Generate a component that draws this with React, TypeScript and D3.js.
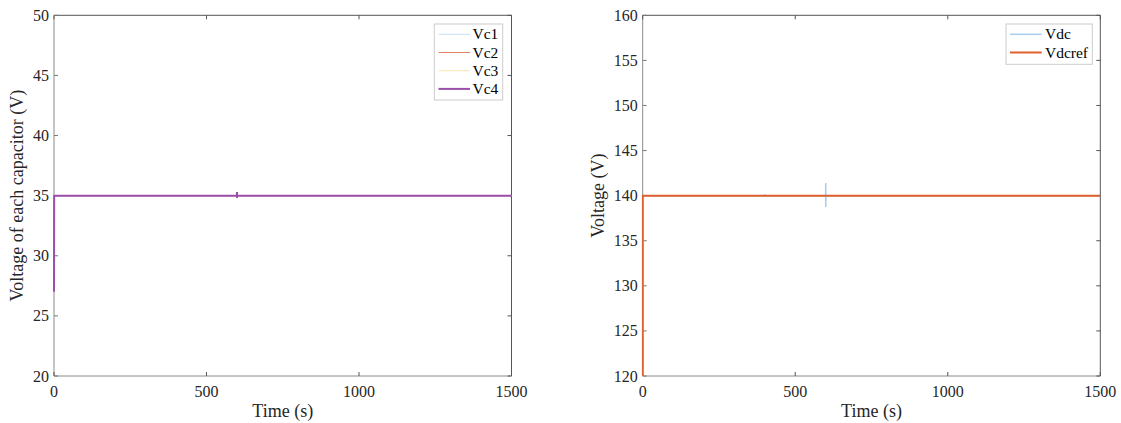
import React from "react";
import * as d3 from "d3";

// ---- data ----
const xTicks = [0, 500, 1000, 1500];
const leftYTicks = [20, 25, 30, 35, 40, 45, 50];
const rightYTicks = [120, 125, 130, 135, 140, 145, 150, 155, 160];

const vcTime = [0, 0.5, 599.5, 600, 600, 600.5, 1500];
const vc1 = [27, 35, 35, 35.2, 34.85, 35, 35];
const vc2 = [27, 35, 35, 35.2, 34.85, 35, 35];
const vc3 = [27, 35, 35, 35.2, 34.85, 35, 35];
const vc4 = [27, 35, 35, 35.3, 34.8, 35, 35];

const vdcTime = [0, 0.5, 399.5, 400, 400.5, 599.5, 600, 600, 600.5, 1500];
const vdc = [120, 140, 140, 140.15, 140, 140, 141.4, 138.75, 140, 140];
const vdcrefTime = [0, 0, 1500];
const vdcref = [120, 140, 140];

const leftSeries = [
  { name: "Vc1", t: vcTime, v: vc1, color: "#c9dff2", width: 1 },
  { name: "Vc2", t: vcTime, v: vc2, color: "#e0825f", width: 1 },
  { name: "Vc3", t: vcTime, v: vc3, color: "#fbe6b3", width: 1 },
  { name: "Vc4", t: vcTime, v: vc4, color: "#9a4fab", width: 2 },
];
const rightSeries = [
  { name: "Vdc", t: vdcTime, v: vdc, color: "#a8cdec", width: 1.5 },
  { name: "Vdcref", t: vdcrefTime, v: vdcref, color: "#e0602d", width: 2 },
];

const FONT = "'Liberation Serif', 'Times New Roman', serif";

type Series = { name: string; t: number[]; v: number[]; color: string; width: number };

function Panel(props: {
  x0: number; x1: number; y0: number; y1: number;
  yDomain: [number, number]; yTicks: number[]; yLabel: string; yLabelX: number;
  series: Series[];
  legend: { x: number; y: number; w: number; h: number; lineX0: number; lineX1: number; textX: number };
}) {
  const { x0, x1, y0, y1, yDomain, yTicks, yLabel, yLabelX, series, legend } = props;
  const xs = d3.scaleLinear().domain([0, 1500]).range([x0, x1]);
  const ys = d3.scaleLinear().domain(yDomain).range([y1, y0]);
  const tl = 4;
  return (
    <g>
      <defs>
        <clipPath id={"clip" + Math.round(x0)}>
          <rect x={x0 - 1} y={y0} width={x1 - x0 + 1} height={y1 - y0} />
        </clipPath>
      </defs>
      {/* box */}
      <line x1={x0} x2={x1} y1={y1} y2={y1} stroke="#8a8a8a" strokeWidth={1} />
      <line x1={x0} x2={x0} y1={y0} y2={y1} stroke="#8a8a8a" strokeWidth={1} />
      <line x1={x0} x2={x1} y1={y0} y2={y0} stroke="#555" strokeWidth={1} />
      <line x1={x1} x2={x1} y1={y0} y2={y1} stroke="#555" strokeWidth={1} />
      {/* x ticks */}
      {xTicks.map((t) => (
        <g key={"xt" + t}>
          <line x1={xs(t)} x2={xs(t)} y1={y1} y2={y1 - tl} stroke="#555" />
          <line x1={xs(t)} x2={xs(t)} y1={y0} y2={y0 + tl} stroke="#555" />
          <text x={xs(t)} y={397} textAnchor="middle" fontFamily={FONT} fontSize={16} fill="#262626">{t}</text>
        </g>
      ))}
      {yTicks.map((t) => (
        <g key={"yt" + t}>
          <line x1={x0} x2={x0 + tl} y1={ys(t)} y2={ys(t)} stroke="#777" />
          <line x1={x1} x2={x1 - tl} y1={ys(t)} y2={ys(t)} stroke="#555" />
          <text x={x0 - 5} y={ys(t) + 5.5} textAnchor="end" fontFamily={FONT} fontSize={16} fill="#262626">{t}</text>
        </g>
      ))}
      {/* lines */}
      <g clipPath={`url(#clip${Math.round(x0)})`}>
        {series.map((s) => {
          const pts: [number, number][] = s.t.map((t, i) => [t, s.v[i]]);
          const line = d3.line<[number, number]>().x((d) => xs(d[0])).y((d) => ys(d[1]));
          return <path key={s.name} d={line(pts) || ""} fill="none" stroke={s.color} strokeWidth={s.width} />;
        })}
      </g>
      <text x={(x0 + x1) / 2} y={417} textAnchor="middle" fontFamily={FONT} fontSize={18} fill="#262626">Time (s)</text>
      <text transform={`translate(${yLabelX},${(y0 + y1) / 2}) rotate(-90)`} textAnchor="middle" fontFamily={FONT} fontSize={18} fill="#262626">{yLabel}</text>
      {/* legend */}
      <rect x={legend.x} y={legend.y} width={legend.w} height={legend.h} fill="#fff" stroke="#ccc" strokeWidth={1} />
      {series.map((s, i) => {
        const cy = legend.y + 10.3 + i * 18.2;
        return (
          <g key={"lg" + s.name}>
            <line x1={legend.lineX0} x2={legend.lineX1} y1={cy} y2={cy} stroke={s.color} strokeWidth={s.width} />
            <text x={legend.textX} y={cy + 5} fontFamily={FONT} fontSize={15.5} fill="#000">{s.name}</text>
          </g>
        );
      })}
    </g>
  );
}

export default function App() {
  return (
    <svg width={1121} height={423} style={{ position: "absolute", left: 0, top: 0, background: "#fff" }}>
      <rect x={0} y={0} width={1121} height={423} fill="#fff" />
      <Panel x0={54} x1={511.5} y0={15.3} y1={376} yDomain={[20, 50]} yTicks={leftYTicks}
        yLabel="Voltage of each capacitor (V)" yLabelX={23} series={leftSeries}
        legend={{ x: 434.3, y: 24, w: 68.4, h: 76, lineX0: 438.5, lineX1: 470, textX: 472.5 }} />
      <Panel x0={642.7} x1={1100.3} y0={15.3} y1={376} yDomain={[120, 160]} yTicks={rightYTicks}
        yLabel="Voltage (V)" yLabelX={604} series={rightSeries}
        legend={{ x: 1006, y: 24, w: 86.3, h: 40.3, lineX0: 1010, lineX1: 1041.7, textX: 1045 }} />
    </svg>
  );
}
